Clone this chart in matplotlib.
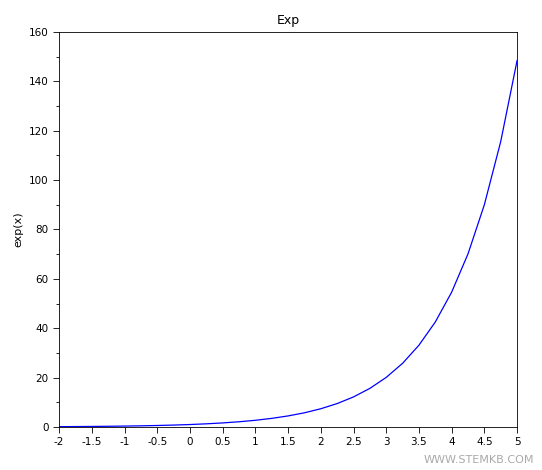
import matplotlib
matplotlib.use("Agg")
import matplotlib.pyplot as plt
from matplotlib.ticker import MultipleLocator

# values
x_vals = [-2, -1.75, -1.5, -1.25, -1, -0.75, -0.5, -0.25, 0, 0.25, 0.5, 0.75,
          1, 1.25, 1.5, 1.75, 2, 2.25, 2.5, 2.75, 3, 3.25, 3.5, 3.75, 4,
          4.25, 4.5, 4.75, 5]
y_vals = [0.135, 0.174, 0.223, 0.287, 0.368, 0.472, 0.607, 0.779, 1.0, 1.284,
          1.649, 2.117, 2.718, 3.49, 4.482, 5.755, 7.389, 9.488, 12.18, 15.64,
          20.09, 25.79, 33.12, 42.52, 54.6, 70.11, 90.02, 115.6, 148.4]
x_ticks = [-2, -1.5, -1, -0.5, 0, 0.5, 1, 1.5, 2, 2.5, 3, 3.5, 4, 4.5, 5]
x_labels = ["-2", "-1.5", "-1", "-0.5", "0", "0.5", "1", "1.5", "2", "2.5",
            "3", "3.5", "4", "4.5", "5"]

fig = plt.figure(figsize=(5.42, 4.70), dpi=100)
ax = fig.add_axes([0.109, 0.0915, 0.845, 0.8405])
ax.plot(x_vals, y_vals, color="blue", lw=0.9)
ax.set_xlim(-2, 5)
ax.set_ylim(0, 160)
ax.set_xticks(x_ticks)
ax.set_xticklabels(x_labels)
ax.yaxis.set_major_locator(MultipleLocator(20))
ax.yaxis.set_minor_locator(MultipleLocator(10))
ax.tick_params(labelsize=7.5, length=4, width=0.6)
ax.tick_params(which="minor", length=2, width=0.6)
for s in ax.spines.values():
    s.set_linewidth(0.6)
ax.set_title("Exp", fontsize=9, pad=6)
ax.set_ylabel("exp(x)", fontsize=8)
fig.text(0.985, 0.01, "WWW.STEMKB.COM", ha="right", va="bottom",
         fontsize=8, color="#aaaaaa")
fig.savefig("out.png", dpi=100)
